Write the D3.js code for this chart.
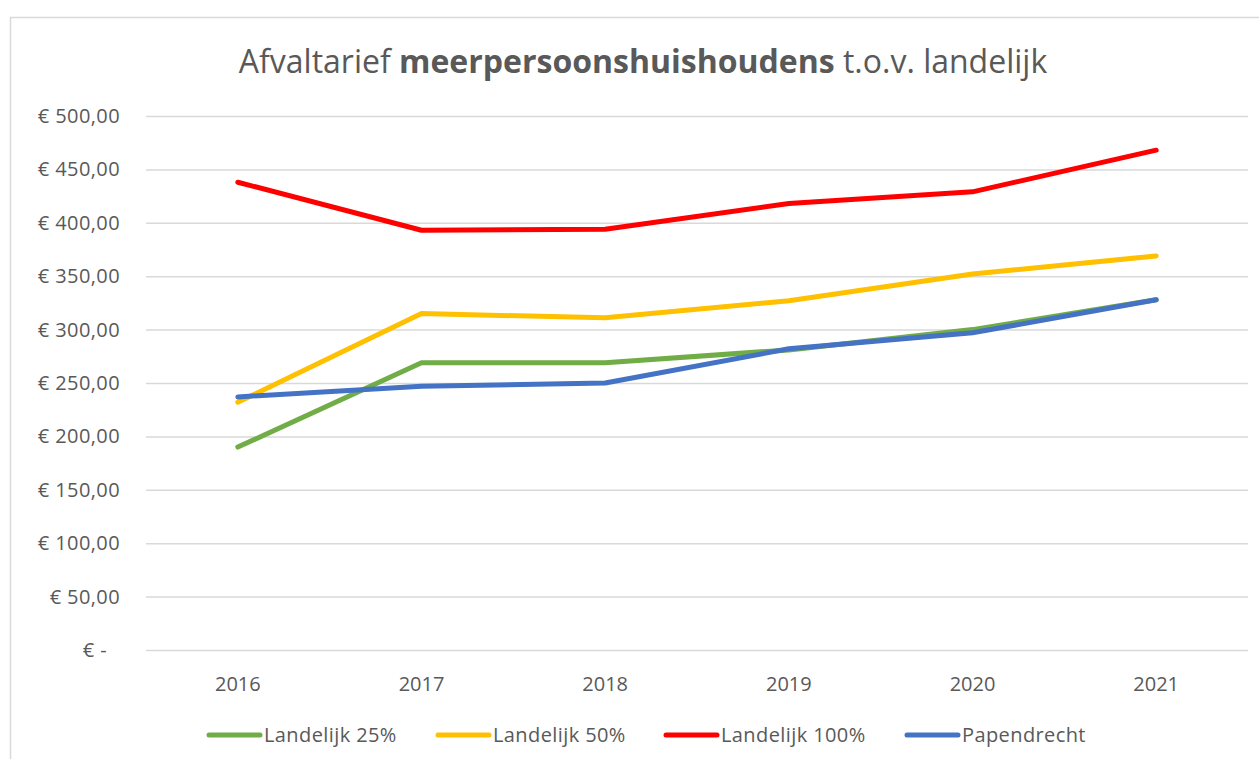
<!DOCTYPE html>
<html>
<head>
<meta charset="utf-8">
<script src="https://cdn.jsdelivr.net/npm/d3@7"></script>
<style>
body { margin:0; background:#fff; }
text { font-family: "Open Sans", "Noto Sans", sans-serif; fill:#595959; }
</style>
</head>
<body>
<svg id="chart" width="1259" height="759"></svg>
<script>
var years = ["2016","2017","2018","2019","2020","2021"];
var landelijk25 = [190, 269, 269, 281, 300, 328];
var landelijk50 = [232, 315, 311, 327, 352, 369];
var landelijk100 = [438, 393, 394, 418, 429, 468];
var papendrecht = [237, 247, 250, 282, 297, 328];
var yTicks = [0, 50, 100, 150, 200, 250, 300, 350, 400, 450, 500];

var series = [
	{name:"Landelijk 25%", values:landelijk25, color:"#70AD47"},
	{name:"Landelijk 50%", values:landelijk50, color:"#FFC000"},
	{name:"Landelijk 100%", values:landelijk100, color:"#FF0000"},
	{name:"Papendrecht", values:papendrecht, color:"#4472C4"}
];

var svg = d3.select("#chart");
svg.append("rect").attr("x",10.5).attr("y",17.5).attr("width",1260).attr("height",760)
	.attr("fill","none").attr("stroke","#d9d9d9").attr("stroke-width",1.5);

var x = d3.scaleBand().domain(years).range([146,1248]);
var y = d3.scaleLinear().domain([0,500]).range([650,116]);

// gridlines
svg.append("g").selectAll("line").data(yTicks).enter().append("line")
	.attr("x1",146).attr("x2",1248)
	.attr("y1",function(d){return y(d)+0.5;}).attr("y2",function(d){return y(d)+0.5;})
	.attr("stroke","#d9d9d9").attr("stroke-width",1.5);

// y labels
function euro(d)
{
	if(d==0) return "€ -";
	return "€ " + d3.format(".2f")(d).replace(".",",");
}
svg.append("g").selectAll("text").data(yTicks).enter().append("text")
	.attr("x",function(d){return d==0 ? 107 : 120;})
	.attr("y",function(d){return y(d)+7;})
	.attr("text-anchor","end").attr("font-size",20).attr("letter-spacing",0.4).text(euro);

// x labels
svg.append("g").selectAll("text").data(years).enter().append("text")
	.attr("x",function(d){return x(d)+x.bandwidth()/2;})
	.attr("y",691).attr("text-anchor","middle").attr("font-size",20).text(function(d){return d;});

// lines
var line = d3.line()
	.x(function(d,i){return x(years[i])+x.bandwidth()/2;})
	.y(function(d){return y(d);});
svg.append("g").selectAll("path").data(series).enter().append("path")
	.attr("d",function(s){return line(s.values);})
	.attr("fill","none").attr("stroke",function(s){return s.color;})
	.attr("stroke-width",5).attr("stroke-linecap","round").attr("stroke-linejoin","round");

// title
var title = svg.append("text").attr("x",643).attr("y",73).attr("text-anchor","middle").attr("font-size",32);
title.append("tspan").text("Afvaltarief ");
title.append("tspan").attr("font-weight","bold").text("meerpersoonshuishoudens");
title.append("tspan").text(" t.o.v. landelijk");

// legend
var legendX = [207, 436, 664, 905];
var legend = svg.append("g").selectAll("g").data(series).enter().append("g")
	.attr("transform",function(s,i){return "translate("+legendX[i]+",735)";});
legend.append("line").attr("x1",2).attr("x2",53).attr("y1",0).attr("y2",0)
	.attr("stroke",function(s){return s.color;}).attr("stroke-width",5).attr("stroke-linecap","round");
legend.append("text").attr("x",57).attr("y",7).attr("font-size",20).attr("letter-spacing",0.4).text(function(s){return s.name;});
</script>
</body>
</html>
